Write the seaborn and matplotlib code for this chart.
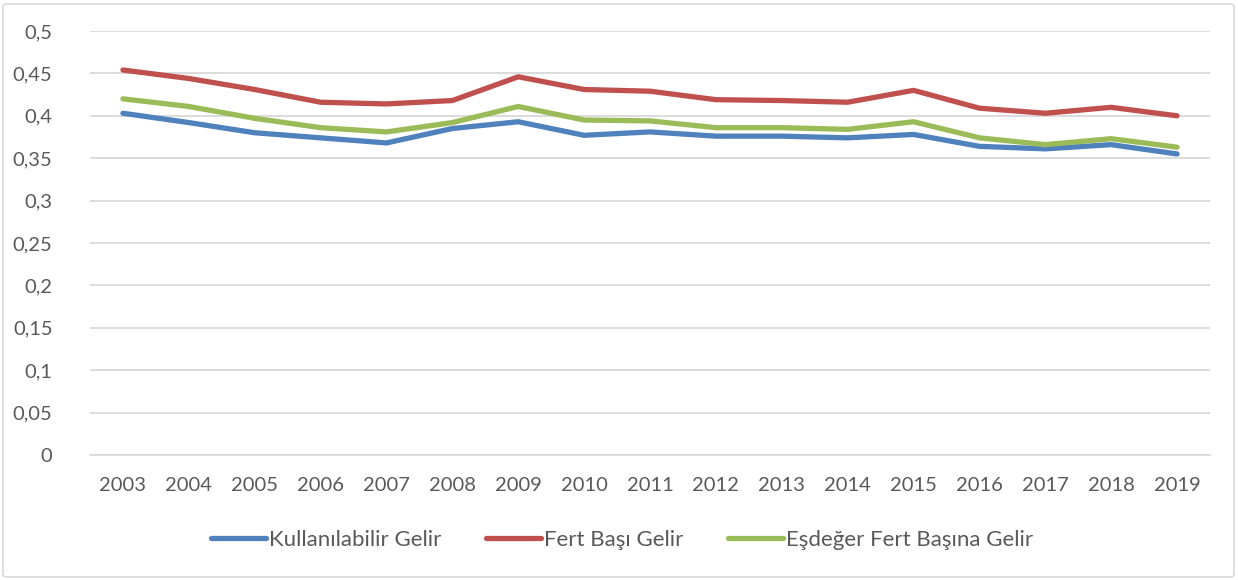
import matplotlib
matplotlib.use("Agg")
import matplotlib.pyplot as plt
import seaborn as sns
import pandas as pd
from matplotlib.patches import FancyBboxPatch
from matplotlib.lines import Line2D

years = list(range(2003, 2020))
kullanilabilir = [0.403, 0.392, 0.380, 0.374, 0.368, 0.385, 0.393, 0.377, 0.381, 0.376,
                  0.376, 0.374, 0.378, 0.364, 0.361, 0.366, 0.355]
fert_basi = [0.454, 0.444, 0.431, 0.416, 0.414, 0.418, 0.446, 0.431, 0.429, 0.419,
             0.418, 0.416, 0.430, 0.409, 0.403, 0.410, 0.400]
esdeger = [0.420, 0.411, 0.397, 0.386, 0.381, 0.392, 0.411, 0.395, 0.394, 0.386,
           0.386, 0.384, 0.393, 0.374, 0.366, 0.373, 0.363]
series_names = ["Kullanılabilir Gelir", "Fert Başı Gelir", "Eşdeğer Fert Başına Gelir"]
colors = ["#4F81BD", "#C0504D", "#9BBB59"]
yticks = [0, 0.05, 0.1, 0.15, 0.2, 0.25, 0.3, 0.35, 0.4, 0.45, 0.5]
ytick_labels = ["0", "0,05", "0,1", "0,15", "0,2", "0,25", "0,3", "0,35", "0,4", "0,45", "0,5"]

rows = []
for name, vals in zip(series_names, [kullanilabilir, fert_basi, esdeger]):
    for i, v in enumerate(vals):
        rows.append({"idx": i, "value": v, "series": name})
df = pd.DataFrame(rows)

sns.set_style("white")
plt.rcParams["font.family"] = ["Lato", "DejaVu Sans"]

fig = plt.figure(figsize=(12.38, 5.8), dpi=100)
ax = fig.add_axes([90 / 1238, 1 - 455 / 580, (1210 - 90) / 1238, (455 - 31) / 580])

sns.lineplot(data=df, x="idx", y="value", hue="series", hue_order=series_names,
             palette=colors, linewidth=3.8, ax=ax, legend=False,
             solid_capstyle="round", solid_joinstyle="round")

ax.set_xlim(-0.5, len(years) - 0.5)
ax.set_ylim(0, 0.5)
ax.set_yticks(yticks)
ax.set_yticklabels(ytick_labels)
ax.set_xticks(range(len(years)))
ax.set_xticklabels([str(y) for y in years])
ax.set_xlabel("")
ax.set_ylabel("")
ax.grid(axis="y", color="#D9D9D9", linewidth=1.3)
ax.set_axisbelow(True)
for s in ["top", "right", "left"]:
    ax.spines[s].set_visible(False)
ax.spines["bottom"].set_color("#D9D9D9")
ax.spines["bottom"].set_linewidth(1.3)
ax.tick_params(axis="both", length=0, labelsize=14.5, labelcolor="#595959")
ax.tick_params(axis="y", pad=27)
ax.tick_params(axis="x", pad=16)

handles = [Line2D([0], [0], color=c, linewidth=3.8, solid_capstyle="round") for c in colors]
leg = fig.legend(handles, series_names, loc="center", bbox_to_anchor=(622 / 1238, 1 - 540 / 580),
                 ncol=3, frameon=False, fontsize=16, handlelength=2.5, handletextpad=0.12,
                 columnspacing=2.0)
for t in leg.get_texts():
    t.set_color("#595959")

border = FancyBboxPatch((3 / 1238, 3 / 580), 1 - 7 / 1238, 1 - 7 / 580,
                        boxstyle="round,pad=0,rounding_size=0.004",
                        transform=fig.transFigure, fill=False, edgecolor="#D9D9D9", linewidth=1.2)
fig.patches.append(border)

fig.savefig("out.png", dpi=100)
